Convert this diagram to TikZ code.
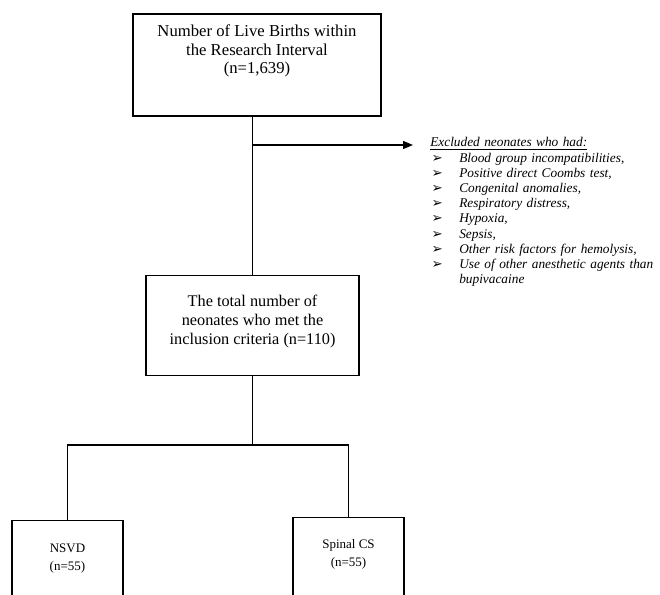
\documentclass[tikz,border=0pt]{standalone}
\usepackage{fontspec}
\setmainfont{Liberation Serif}
\newfontfamily\bulfont{DejaVu Sans}
\usetikzlibrary{arrows.meta, positioning}
\tikzset{
    flowbox/.style={rectangle, draw=black, line width=1pt, inner sep=0pt},
    bigtext/.style={font=\fontsize{12.5pt}{13.7pt}\selectfont},
    midtext/.style={font=\fontsize{12.2pt}{14.25pt}\selectfont},
    smalltext/.style={font=\fontsize{9.75pt}{13.1pt}\selectfont},
    listbox/.style={inner sep=0pt, text width=170pt, align=left,
        font=\fontsize{10pt}{11.4pt}\selectfont\itshape},
    link/.style={line width=1pt},
    arrow/.style={-{Triangle[length=7.5pt, width=6pt]}, line width=1pt}
}
\newcommand{\boxtext}[4]{\parbox[c][#2][t]{#1}{\centering\rule{0pt}{#3}#4}}
\newcommand{\bul}{\hspace*{1pt}\makebox[20.75pt][l]{\bulfont\upshape\fontsize{10pt}{10pt}\selectfont ➢}}

\begin{document}
\begin{tikzpicture}
    \useasboundingbox (0,0) rectangle (495pt,-446.25pt);
    \clip (0,0) rectangle (495pt,-446.25pt);

    \node[flowbox, bigtext] (births) at (192.75pt,-48.75pt) {\boxtext{186pt}{76.5pt}{17.25pt}{Number of Live Births within\\the Research Interval\\(n=1,639)}};

    \node[flowbox, midtext, below=118.5pt of births, xshift=-3.35pt] (total) {\boxtext{159.75pt}{75pt}{23.25pt}{The total number of\\neonates who met the\\inclusion criteria (n=110)}};

    \node[flowbox, smalltext, below=108pt of total, xshift=-138.8pt] (nsvd) {\boxtext{83.25pt}{90pt}{24pt}{NSVD\\(n=55)}};
    \node[flowbox, smalltext, below=105.75pt of total, xshift=72pt] (spinal) {\boxtext{83.25pt}{90pt}{23.25pt}{Spinal CS\\(n=55)}};

    \coordinate (tap) at (total.north |- 0,-108.75pt);
    \coordinate (fork) at ([yshift=-51.75pt]total.south);

    \node[listbox, anchor=base west] (excl) at ([xshift=133.1pt, yshift=-1.5pt]tap) {\underline{Excluded neonates who had:}\\
        \bul Blood group incompatibilities,\\
        \bul Positive direct Coombs test,\\
        \bul Congenital anomalies,\\
        \bul Respiratory distress,\\
        \bul Hypoxia,\\
        \bul Sepsis,\\
        \bul Other risk factors for hemolysis,\\
        \bul Use of other anesthetic agents than\\
        \hspace*{21.75pt}bupivacaine};

    \draw[link] (births.south -| total.north) -- (total.north);
    \draw[arrow, shorten >=12.75pt] (tap) -- (tap -| excl.west);
    \draw[link] (total.south) -- (fork);
    \draw[link] (nsvd.north) |- (fork) -| (spinal.north);
\end{tikzpicture}
\end{document}
